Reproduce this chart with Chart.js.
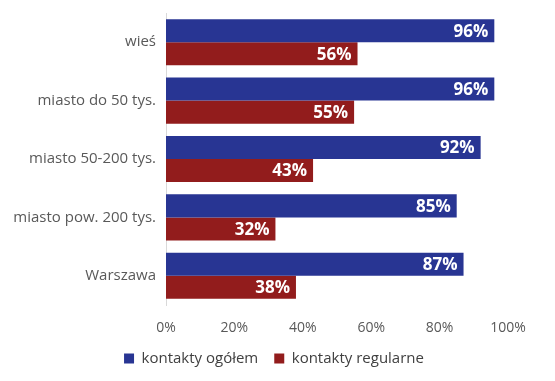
<!DOCTYPE html>
<html><head><meta charset="utf-8">
<script src="https://cdn.jsdelivr.net/npm/chart.js@4"></script>
<style>html,body{margin:0;padding:0;background:#fff}#w{width:555px;height:381px}</style>
</head><body><div id="w"><canvas id="c"></canvas></div>
<script>
const categories = ["wieś", "miasto do 50 tys.", "miasto 50-200 tys.", "miasto pow. 200 tys.", "Warszawa"];
const seriesNames = ["kontakty ogółem", "kontakty regularne"];
const ogolem = [96, 96, 92, 85, 87];
const regularne = [56, 55, 43, 32, 38];
const xTicks = [0, 20, 40, 60, 80, 100];

const FONT = '"Open Sans", Lato, sans-serif';

const labelPlugin = {
  id: 'vals',
  afterLayout(chart) {
    // shift legend box so its items are centred like the reference
    if (chart.legend) { chart.legend.left += 40; }
  },
  afterDatasetsDraw(chart) {
    const ctx = chart.ctx;
    ctx.save();
    ctx.fillStyle = '#fff';
    ctx.font = 'bold 17px ' + FONT;
    ctx.textAlign = 'right';
    ctx.textBaseline = 'middle';
    chart.data.datasets.forEach((ds, i) => {
      chart.getDatasetMeta(i).data.forEach((el, j) => {
        ctx.fillText(ds.data[j] + '%', el.x - 6, el.y + 1);
      });
    });
    ctx.restore();
  }
};

new Chart(document.getElementById('c'), {
  type: 'bar',
  data: {
    labels: categories,
    datasets: [
      { label: seriesNames[0], data: ogolem, backgroundColor: '#283593' },
      { label: seriesNames[1], data: regularne, backgroundColor: '#921C1C' }
    ]
  },
  options: {
    indexAxis: 'y',
    responsive: true,
    maintainAspectRatio: false,
    animation: false,
    layout: { padding: { top: 13, right: 47, left: 0, bottom: 5 } },
    datasets: { bar: { categoryPercentage: 0.79, barPercentage: 1 } },
    scales: {
      x: {
        min: 0, max: 100,
        afterBuildTicks(s) { s.ticks = xTicks.map(v => ({ value: v })); },
        grid: { display: false },
        border: { display: false },
        ticks: { color: '#595959', font: { family: FONT, size: 14 }, padding: 7, callback: v => v + '%' },
        afterFit(s) { s.height = 30; }
      },
      y: {
        grid: { display: false, drawTicks: false },
        border: { display: true, color: '#d9d9d9' },
        ticks: { color: '#595959', font: { family: FONT, size: 15 }, padding: 10 },
        afterFit(s) { s.width = 166; s.paddingTop = 0; s.paddingBottom = 0; }
      }
    },
    plugins: {
      legend: {
        position: 'bottom',
        labels: { boxWidth: 10, boxHeight: 10, color: '#404040', font: { family: FONT, size: 15 }, padding: 16 }
      },
      tooltip: { enabled: false }
    }
  },
  plugins: [labelPlugin]
});
</script></body></html>
